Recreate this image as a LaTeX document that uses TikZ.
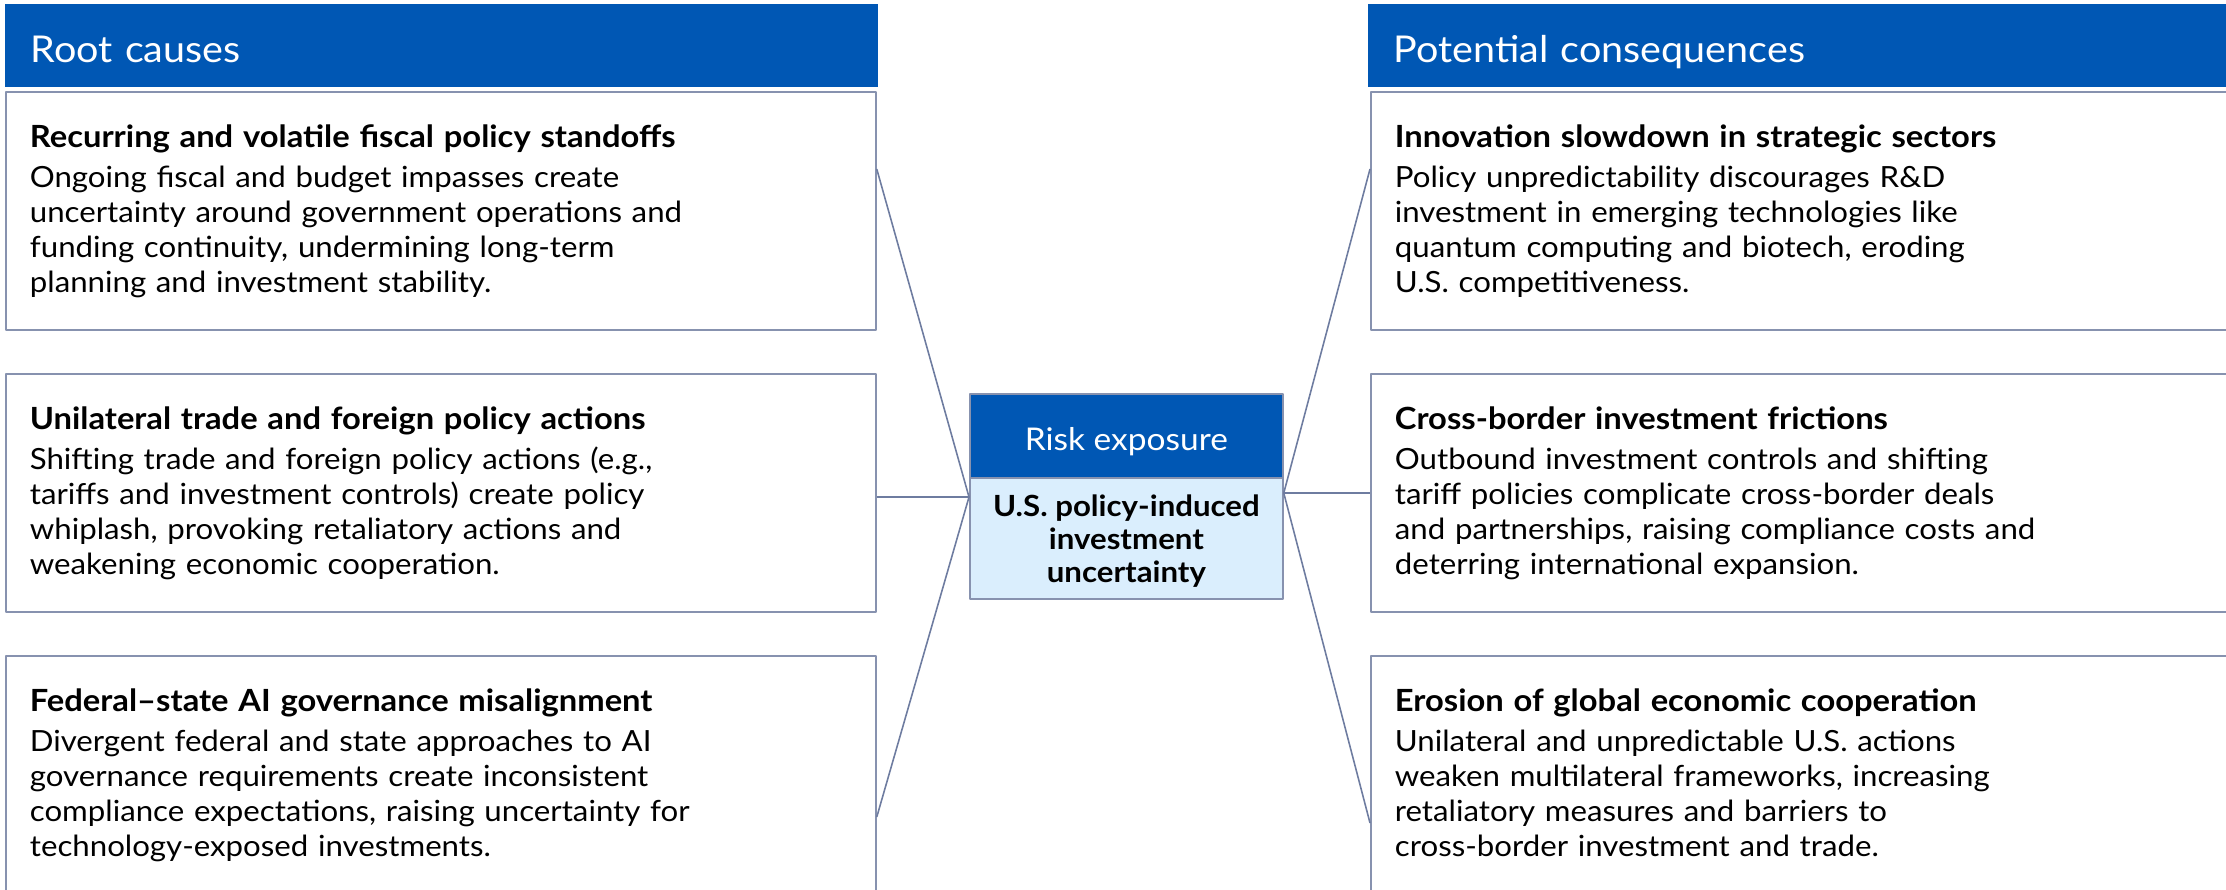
\documentclass[tikz,border=0pt]{standalone}
\usepackage{fontspec}
\setmainfont{Lato}[FakeStretch=1.07]
\usetikzlibrary{calc}
\definecolor{rcblue}{RGB}{0,87,180}
\definecolor{rclight}{RGB}{218,238,253}
\definecolor{rcedge}{RGB}{135,146,175}
\definecolor{rcline}{RGB}{110,124,160}
\newcommand{\rchead}[1]{{\fontsize{8.7}{9.96}\selectfont\bfseries #1}\\[1.6pt]}
\begin{document}
\begin{tikzpicture}[line join=round,
    hdr/.style={fill=rcblue,text=white,anchor=north west,minimum height=0.83cm,
      inner xsep=0.26cm,text width=8.21cm,align=left,text height=9.94pt,text depth=0pt,
      font=\fontsize{10.5}{12}\selectfont},
    card/.style={draw=rcedge,line width=0.5pt,fill=white,anchor=north west,
      minimum height=2.38cm,inner xsep=0.24cm,text width=8.22cm,align=left,
      text height=0pt,text depth=36.2pt,font=\fontsize{8.3}{9.96}\selectfont},
    link/.style={draw=rcline,line width=0.45pt}]
    \clip (0,0) rectangle (22.26,-8.89);
    % headers
    \node[hdr] (hdrL) at (0.04,-0.03) {Root causes};
    \node[hdr] (hdrR) at (13.67,-0.03) {Potential consequences};
    % root causes
    \node[card] (L1) at (0.05,-0.91) {\rchead{Recurring and volatile fiscal policy standoffs}
      Ongoing fiscal and budget impasses create\\
      uncertainty around government operations and\\
      funding continuity, undermining long-term\\
      planning and investment stability.};
    \node[card] (L2) at (0.05,-3.73) {\rchead{Unilateral trade and foreign policy actions}
      Shifting trade and foreign policy actions (e.g.,\\
      tariffs and investment controls) create policy\\
      whiplash, provoking retaliatory actions and\\
      weakening economic cooperation.};
    \node[card] (L3) at (0.05,-6.55) {\rchead{Federal–state AI governance misalignment}
      Divergent federal and state approaches to AI\\
      governance requirements create inconsistent\\
      compliance expectations, raising uncertainty for\\
      technology-exposed investments.};
    % consequences
    \node[card] (R1) at (13.70,-0.91) {\rchead{Innovation slowdown in strategic sectors}
      Policy unpredictability discourages R\&D\\
      investment in emerging technologies like\\
      quantum computing and biotech, eroding\\
      U.S. competitiveness.};
    \node[card] (R2) at (13.70,-3.73) {\rchead{Cross-border investment frictions}
      Outbound investment controls and shifting\\
      tariff policies complicate cross-border deals\\
      and partnerships, raising compliance costs and\\
      deterring international expansion.};
    \node[card] (R3) at (13.70,-6.55) {\rchead{Erosion of global economic cooperation}
      Unilateral and unpredictable U.S. actions\\
      weaken multilateral frameworks, increasing\\
      retaliatory measures and barriers to\\
      cross-border investment and trade.};
    % risk exposure
    \node[fill=rcblue,draw=rcedge,line width=0.5pt,text=white,anchor=north west,
      minimum width=3.13cm,minimum height=0.84cm,text height=8.52pt,text depth=0pt,
      font=\fontsize{8.9}{11}\selectfont]
      (riskH) at (9.69,-3.93) {Risk exposure};
    \node[fill=rclight,draw=rcedge,line width=0.5pt,anchor=north west,
      minimum width=3.13cm,minimum height=1.21cm,align=center,
      text height=25.3pt,text depth=0pt,font=\bfseries\fontsize{8.3}{9.5}\selectfont]
      (riskB) at (9.69,-4.77) {U.S. policy-induced\\investment\\uncertainty};
    \coordinate (jL) at ($(riskB.north west)+(0,-0.2)$);
    \coordinate (jR) at ($(riskB.north east)+(0,-0.16)$);
    \draw[link] ($(L1.north east)+(0,-0.78)$) -- (jL);
    \draw[link] (jL -| L2.east) -- (jL);
    \draw[link] ($(L3.north east)+(0,-1.62)$) -- (jL);
    \draw[link] (jR) -- ($(R1.north west)+(0,-0.78)$);
    \draw[link] (jR) -- (jR -| R2.west);
    \draw[link] (jR) -- ($(R3.north west)+(0,-1.68)$);
\end{tikzpicture}
\end{document}
